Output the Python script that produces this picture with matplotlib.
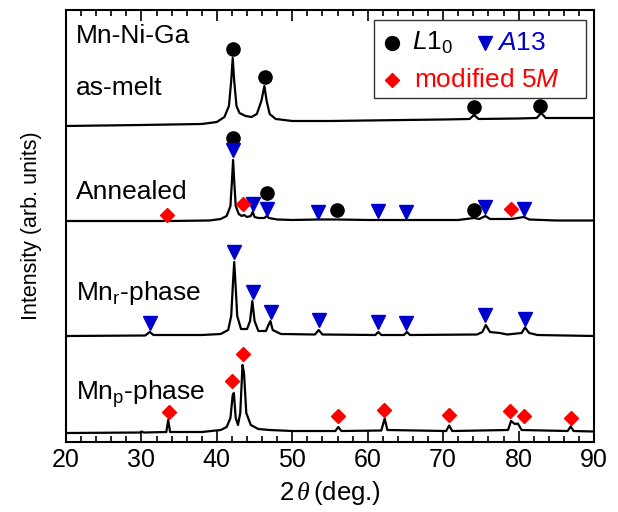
import numpy as np
import matplotlib
matplotlib.use('Agg')
import matplotlib.pyplot as plt
from matplotlib.patches import Rectangle
from matplotlib.ticker import MultipleLocator

plt.rcParams['font.family'] = ['Liberation Sans', 'DejaVu Sans']
plt.rcParams['mathtext.fontset'] = 'custom'
plt.rcParams['mathtext.rm'] = 'Liberation Sans'
plt.rcParams['mathtext.it'] = 'Liberation Sans:italic'
plt.rcParams['mathtext.sf'] = 'Liberation Serif:italic'

# XRD traces: (2theta, intensity above own baseline)
as_melt = [(20, 0), (30, 1), (38, 2), (40, 4), (41, 9), (41.6, 20), (41.9, 45), (42.1, 68),
           (42.3, 45), (42.6, 20), (43.0, 13), (43.8, 10), (44.6, 9), (45.3, 12), (45.9, 25),
           (46.3, 40), (46.6, 25), (47.0, 12), (47.8, 7), (50, 5), (55, 5), (60, 5.5), (65, 6),
           (70, 6.5), (73.5, 7), (74.1, 11), (74.7, 7), (80, 7.5), (82.4, 8), (83.0, 13),
           (83.6, 8), (90, 8)]
annealed = [(20, 0), (33.0, 0), (33.4, 2), (33.8, 0), (39, 0.5), (40.5, 2), (41.3, 5), (41.8, 15),
            (42.0, 40), (42.15, 61), (42.3, 40), (42.5, 15), (42.9, 7), (43.3, 5), (43.6, 6),
            (44.0, 4), (44.5, 5), (44.75, 9), (45.0, 4), (45.5, 3), (46.3, 3), (46.6, 5),
            (46.9, 3), (48, 1.5), (50, 1), (53.5, 1.5), (56, 1.5), (60, 1), (65, 1), (72, 1),
            (74.1, 3), (74.8, 2), (75.6, 5), (76.2, 2), (78.9, 2), (79.5, 2.5), (80.7, 4),
            (81.4, 1.5), (85, 0.5), (90, 0.5)]
mn_r = [(20, 0), (30.5, 0.5), (31.1, 4), (31.6, 1), (38, 1), (40.5, 2), (41.5, 6), (41.9, 20),
        (42.15, 55), (42.3, 74), (42.45, 55), (42.7, 20), (43.2, 7), (44.0, 7), (44.4, 15),
        (44.7, 35), (45.0, 15), (45.5, 5), (46.5, 5), (46.9, 12), (47.1, 15), (47.4, 6),
        (48.5, 2), (53.0, 1.5), (53.5, 6), (54.0, 1.5), (61.0, 1), (61.4, 4), (61.8, 1),
        (64.8, 1), (65.2, 4), (65.6, 1), (74.5, 1.5), (75.2, 4), (75.65, 11), (76.2, 4),
        (77.5, 3), (78.5, 1.5), (80.4, 3), (80.85, 8.5), (81.4, 3), (82.5, 1), (90, 0)]
mn_p = [(20, 0), (29.8, 0.5), (30.0, 1.5), (30.3, 0.5), (33.3, 1), (33.55, 13), (33.8, 1),
        (38, 1), (40.5, 3), (41.3, 6), (41.8, 15), (42.1, 38), (42.25, 40), (42.5, 15),
        (42.8, 8), (43.1, 20), (43.4, 68), (43.6, 60), (43.9, 20), (44.5, 8), (45.5, 4),
        (47, 3), (50, 2), (55.7, 2), (56.1, 6), (56.5, 2), (61.8, 2.5), (62.25, 14.5),
        (62.6, 3), (70.4, 2), (70.8, 7.5), (71.2, 2), (78.6, 3), (79.0, 12), (79.5, 9),
        (79.9, 9.5), (80.4, 3), (86.5, 2), (86.9, 6.5), (87.3, 2), (90, 1.5)]
traces = [as_melt, annealed, mn_r, mn_p]
offsets = [316, 221, 106, 9]

# phase markers (2theta, stacked y)
l10_x = [42.1, 46.4, 74.1, 82.9, 42.1, 46.6, 55.9, 74.1]
l10_y = [393, 365, 335, 336, 304, 249, 232, 232]
a13_x = [42.1, 44.8, 46.6, 53.45, 61.4, 65.1, 75.6, 80.7,
         31.2, 42.3, 44.75, 47.2, 53.5, 61.4, 65.1, 75.6, 80.8]
a13_y = [292, 238, 233, 230, 231, 230, 235, 233,
         119, 190, 150, 130, 122, 120, 119, 127, 123]
m5_x = [33.35, 43.5, 78.95, 33.6, 42.0, 43.5, 56.1, 62.2, 70.8, 78.9, 80.7, 86.9]
m5_y = [227, 238, 233, 30, 61, 88, 26, 32, 27, 31, 26, 24]

labels = ['Mn-Ni-Ga', 'as-melt', 'Annealed', r'Mn$_\mathrm{r}$-phase', r'Mn$_\mathrm{p}$-phase']
label_y = [399, 347, 243, 142, 42]

blue = '#0000cc'
red = '#ff0000'

fig = plt.figure(figsize=(6.18, 5.12), dpi=100)
ax = fig.add_axes([0.1068, 0.1367, 0.8544, 0.8438])

for tr, off in zip(traces, offsets):
    tr = np.array(tr)
    ax.plot(tr[:, 0], tr[:, 1] + off, color='black', lw=1.6, zorder=2)

ax.plot(l10_x, l10_y, 'o', color='black', ms=9.5, ls='none', zorder=3)
ax.plot(a13_x, a13_y, 'v', color=blue, ms=10, ls='none', zorder=3)
ax.plot(m5_x, m5_y, 'D', color=red, ms=7.2, ls='none', zorder=3)

for lab, y in zip(labels, label_y):
    ax.text(21.33, y, lab, fontsize=19, va='baseline', ha='left')

# legend box drawn by hand
ax.add_patch(Rectangle((0.583, 0.796), 0.402, 0.181, transform=ax.transAxes,
                       fill=False, ec='#333333', lw=1, zorder=4))
ax.plot([0.617], [0.923], 'o', color='black', ms=10, transform=ax.transAxes)
ax.text(0.655, 0.923, r'$L$1$_0$', fontsize=19, va='center', transform=ax.transAxes)
ax.plot([0.794], [0.923], 'v', color=blue, ms=10.5, transform=ax.transAxes)
ax.text(0.816, 0.923, r'$A$13', fontsize=19, va='center', color=blue, transform=ax.transAxes)
ax.plot([0.617], [0.838], 'D', color=red, ms=7.5, transform=ax.transAxes)
ax.text(0.659, 0.838, r'modified 5$M$', fontsize=19, va='center', color=red,
        transform=ax.transAxes)

ax.set_xlim(20, 90)
ax.set_ylim(0, 432)
ax.set_yticks([])
ax.xaxis.set_major_locator(MultipleLocator(10))
ax.xaxis.set_minor_locator(MultipleLocator(2))
ax.tick_params(axis='x', which='both', direction='in', top=True, labelsize=18, width=1.2)
ax.tick_params(axis='x', which='major', length=8, pad=4)
ax.tick_params(axis='x', which='minor', length=4.5)
for sp in ax.spines.values():
    sp.set_linewidth(1.5)

ax.set_xlabel(r'2$\,\mathsf{\theta}\,$(deg.)', fontsize=18.5, labelpad=5)
ax.set_ylabel('Intensity (arb. units)', fontsize=15.5, labelpad=17)

plt.savefig('out.png', dpi=100)
